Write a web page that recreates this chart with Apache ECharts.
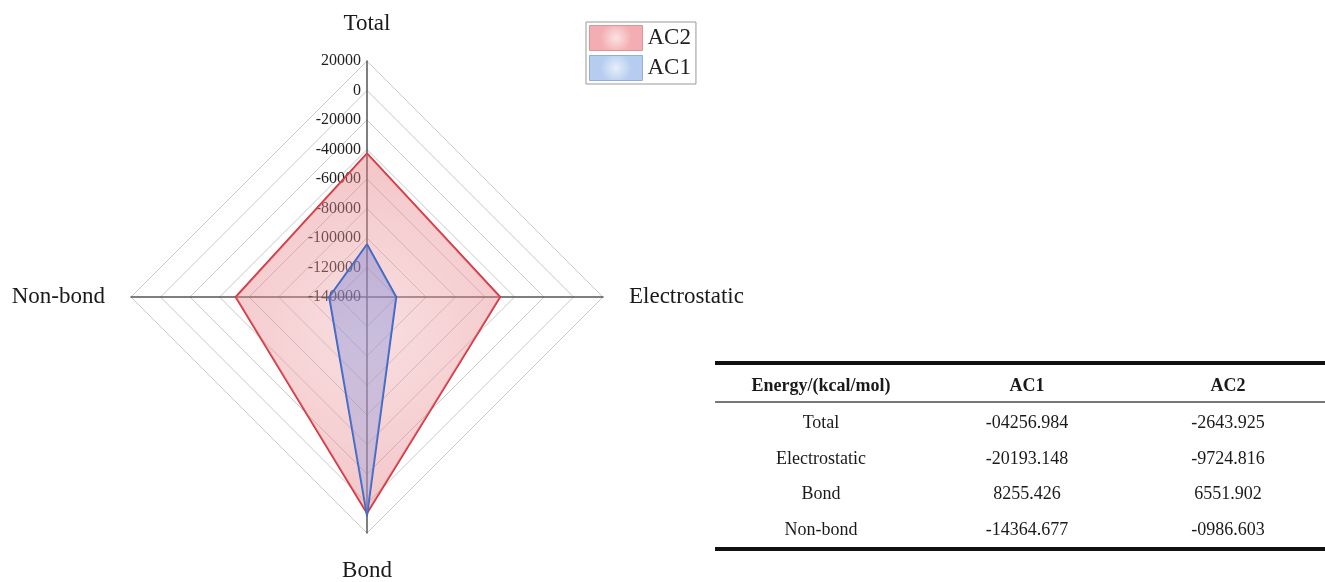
<!DOCTYPE html>
<html>
<head>
<meta charset="utf-8">
<script src="https://cdn.jsdelivr.net/npm/echarts@6/dist/echarts.min.js"></script>
<style>
  html, body { margin: 0; padding: 0; background: #fff; }
  #chart { width: 1325px; height: 582px; }
</style>
</head>
<body>
<div id="chart"></div>
<script>
// Energy terms, in table order
const categories = ['Total', 'Electrostatic', 'Bond', 'Non-bond'];
// Radar values (kcal/mol) for each energy term
const ac1Values = [-104256.984, -120193.148, 8255.426, -114364.677];
const ac2Values = [-42643.925, -49724.816, 6551.902, -50986.603];
// Radial scale
const axisMin = -140000;
const axisMax = 20000;
const axisSplits = 8;
// Table text
const tableHeader = ['Energy/(kcal/mol)', 'AC1', 'AC2'];
const ac1TableText = ['-04256.984', '-20193.148', '8255.426', '-14364.677'];
const ac2TableText = ['-2643.925', '-9724.816', '6551.902', '-0986.603'];

// Radar indicators run counter-clockwise from the top: Total, Non-bond, Bond, Electrostatic
const radarOrder = [0, 3, 2, 1];
const reorder = arr => radarOrder.map(i => arr[i]);

const serif = 'Liberation Serif, Times New Roman, serif';
const chart = echarts.init(document.getElementById('chart'));

const indicator = radarOrder.map((i, k) => {
  const ind = { name: categories[i], min: axisMin, max: axisMax };
  if (k === 0) {
    ind.axisLabel = {
      show: true, color: '#1e1e1e', fontSize: 16, fontFamily: serif, margin: 6,
      formatter: v => String(v)
    };
  }
  return ind;
});

// Table drawn with graphic elements
const colX = [821, 1027, 1228];
const rowY = [423, 459, 494, 530];
const tableGraphics = [
  { type: 'rect', shape: { x: 715, y: 361, width: 610, height: 4 }, style: { fill: '#111' } },
  { type: 'rect', shape: { x: 715, y: 401, width: 610, height: 2 }, style: { fill: '#777' } },
  { type: 'rect', shape: { x: 715, y: 547, width: 610, height: 4 }, style: { fill: '#111' } }
];
tableHeader.forEach((t, c) => {
  tableGraphics.push({
    type: 'text', x: colX[c], y: 386,
    style: { text: t, align: 'center', verticalAlign: 'middle', fill: '#1a1a1a',
             font: 'bold 18px ' + serif }
  });
});
categories.forEach((name, r) => {
  [name, ac1TableText[r], ac2TableText[r]].forEach((t, c) => {
    tableGraphics.push({
      type: 'text', x: colX[c], y: rowY[r],
      style: { text: t, align: 'center', verticalAlign: 'middle', fill: '#1a1a1a',
               font: '18px ' + serif }
    });
  });
});

const option = {
  backgroundColor: '#fff',
  animation: false,
  legend: {
    orient: 'vertical',
    left: 586,
    top: 22,
    itemWidth: 53,
    itemHeight: 25,
    itemGap: 4,
    padding: [3, 5, 3, 3],
    borderColor: '#999',
    borderWidth: 1,
    selectedMode: false,
    textStyle: { fontFamily: serif, fontSize: 23, color: '#222' },
    data: [
      {
        name: 'AC2', icon: 'rect',
        itemStyle: {
          color: { type: 'radial', x: 0.5, y: 0.5, r: 0.6,
            colorStops: [{ offset: 0, color: '#fbe3e3' }, { offset: 1, color: '#f2aeb2' }] },
          borderColor: '#e39397', borderWidth: 1
        }
      },
      {
        name: 'AC1', icon: 'rect',
        itemStyle: {
          color: { type: 'radial', x: 0.5, y: 0.5, r: 0.6,
            colorStops: [{ offset: 0, color: '#e6eefa' }, { offset: 1, color: '#b6cdef' }] },
          borderColor: '#8fb0dd', borderWidth: 1
        }
      }
    ]
  },
  radar: {
    center: [367, 297],
    radius: 236,
    startAngle: 90,
    shape: 'polygon',
    splitNumber: axisSplits,
    nameGap: 26,
    axisName: { color: '#1a1a1a', fontSize: 23, fontFamily: serif },
    axisLine: { lineStyle: { color: '#555', width: 1.5 } },
    axisTick: { show: false },
    axisLabel: { show: false },
    splitLine: { lineStyle: { color: '#c9c9c9', width: 1 } },
    splitArea: { show: false },
    indicator: indicator
  },
  series: [{
    type: 'radar',
    symbol: 'none',
    data: [
      {
        name: 'AC2',
        value: reorder(ac2Values),
        itemStyle: { color: '#d4303b' },
        lineStyle: { color: '#d4303b', width: 2 },
        areaStyle: {
          color: { type: 'radial', x: 0.5, y: 0.5, r: 0.75,
            colorStops: [
              { offset: 0, color: 'rgba(240,178,182,0.6)' },
              { offset: 1, color: 'rgba(226,112,120,0.6)' }
            ] }
        }
      },
      {
        name: 'AC1',
        value: reorder(ac1Values),
        itemStyle: { color: '#3b68c2' },
        lineStyle: { color: '#3b68c2', width: 2 },
        areaStyle: {
          color: { type: 'linear', x: 0, y: 0, x2: 0, y2: 1,
            colorStops: [
              { offset: 0, color: 'rgba(105,118,212,0.55)' },
              { offset: 1, color: 'rgba(140,160,228,0.45)' }
            ] }
        }
      }
    ]
  }],
  graphic: tableGraphics
};

chart.setOption(option);
</script>
</body>
</html>
